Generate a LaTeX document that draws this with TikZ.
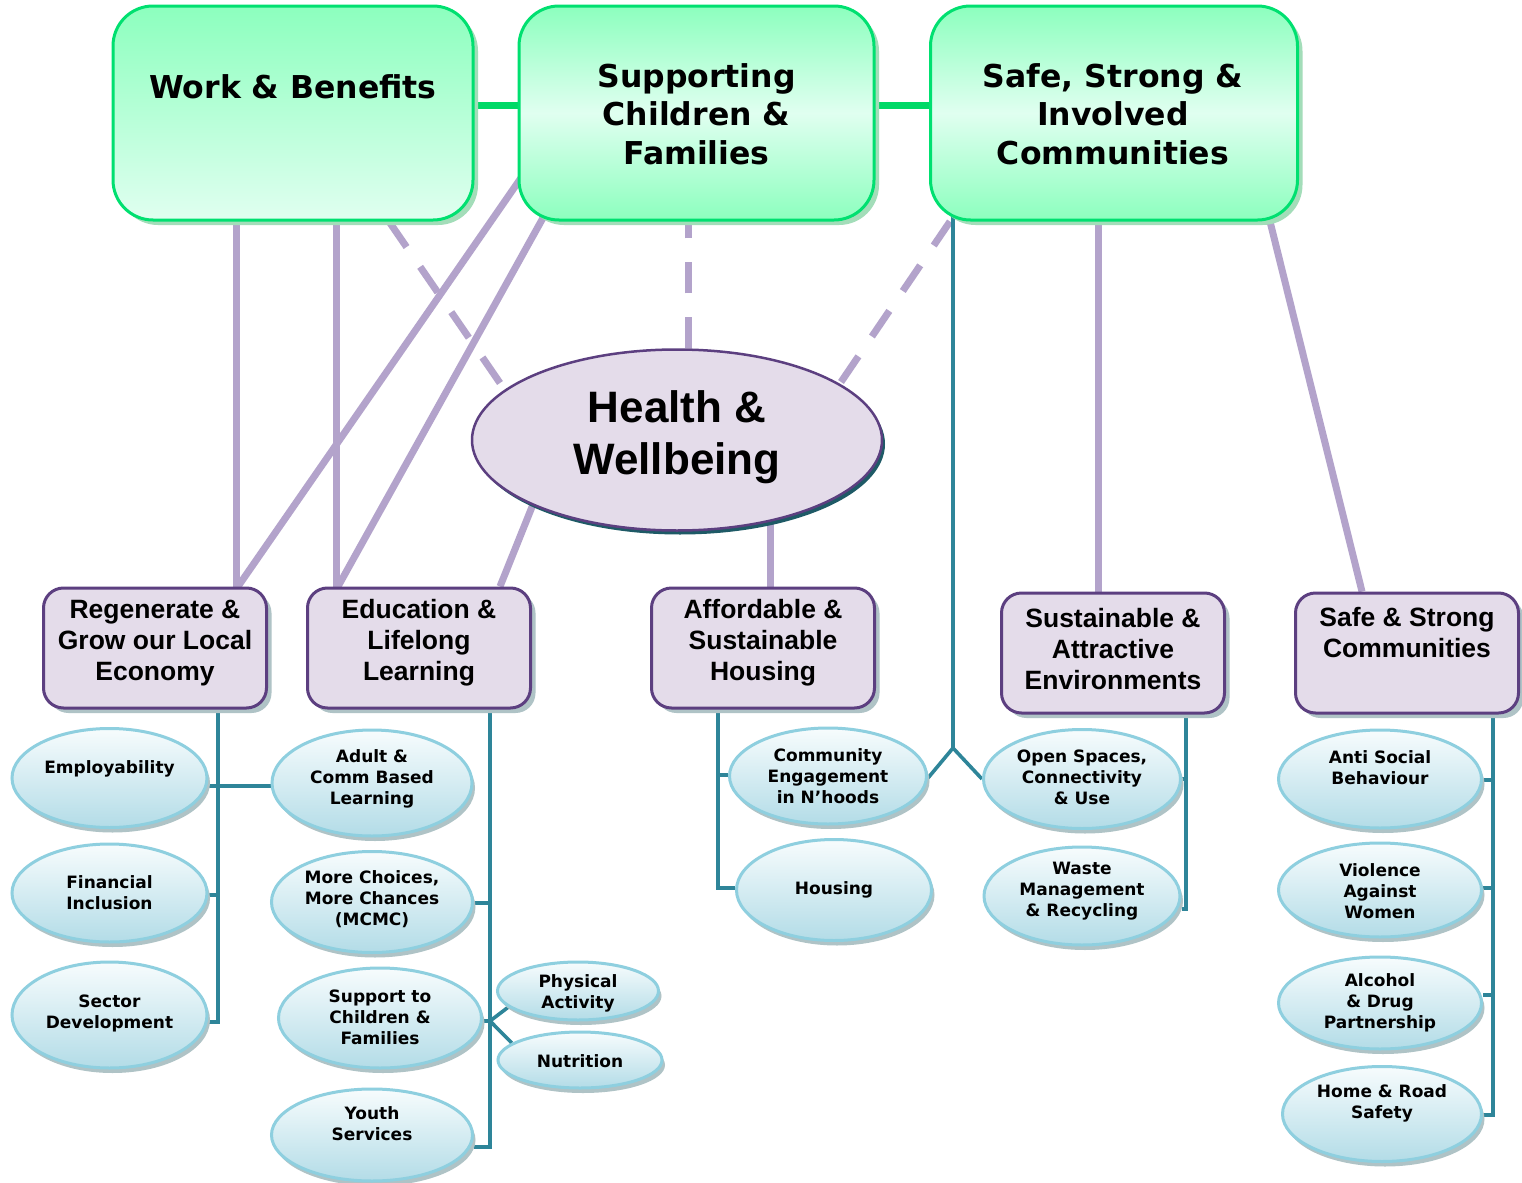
\documentclass[tikz,border=0pt]{standalone}
\usepackage{fontspec}
\newfontfamily\dvs{DejaVu Sans}
\newfontfamily\lib{Liberation Sans}
\usetikzlibrary{shapes.geometric,shadows,backgrounds,calc}
\definecolor{grnB}{HTML}{00E070}
\definecolor{grnL}{HTML}{00D966}
\definecolor{grnT}{HTML}{8CFFBE}
\definecolor{grnW}{HTML}{E0FFF0}
\definecolor{purL}{HTML}{B3A3CB}
\definecolor{purB}{HTML}{5C3F80}
\definecolor{purF}{HTML}{E4DCEA}
\definecolor{tealC}{HTML}{2E8599}
\definecolor{cyB}{HTML}{8ECFDF}
\definecolor{cyT}{HTML}{F7FCFD}
\definecolor{cyD}{HTML}{B3DCE7}
\definecolor{shd}{HTML}{AFC3C6}
\definecolor{shdG}{HTML}{A3DDB9}
\definecolor{hwS}{HTML}{1E5A66}
\newcommand\mysub[7]{%
  \node[subel, minimum width=#4*0.5pt, minimum height=#5*0.5pt] (#1) at (#2,#3) {};
  \node[subfont] (#1t) at (#2,#6) {#7};}
\begin{document}
\begin{tikzpicture}[x=0.5pt,y=-0.5pt,
  topbox/.style={rounded corners=20pt, draw=grnB, line width=1.5pt, inner sep=0pt,
    drop shadow={shadow xshift=2.5pt, shadow yshift=-2.5pt, fill=shdG, opacity=1}},
  topfont/.style={font=\dvs\bfseries\fontsize{15.75}{19.25}\selectfont, align=center},
  midbox/.style={rounded corners=10pt, draw=purB, line width=1.5pt, fill=purF,
    minimum width=111.5pt, minimum height=60pt,
    drop shadow={shadow xshift=2.5pt, shadow yshift=-2.5pt, fill=shd, opacity=1}},
  midfont/.style={font=\lib\bfseries\fontsize{13.25}{15.5}\selectfont, align=center},
  subel/.style={ellipse, draw=cyB, line width=1.5pt, top color=cyT, bottom color=cyD, inner sep=0pt,
    drop shadow={shadow xshift=1.5pt, shadow yshift=-2.5pt, fill=shd, opacity=1}},
  subfont/.style={font=\dvs\bfseries\fontsize{8.5}{10.5}\selectfont, align=center},
  pline/.style={draw=purL, line width=3.5pt},
  pdash/.style={draw=purL, line width=3.5pt, dash pattern=on 15.5pt off 12pt},
  gline/.style={draw=grnL, line width=3.5pt},
  tline/.style={draw=tealC, line width=1.8pt}]
\useasboundingbox (0,0) rectangle (1522,1183);

% top boxes
\node[topbox, minimum width=180pt, minimum height=107pt, top color=grnT, bottom color=grnW] (wb) at (293,113) {};
\node[topfont] (wbt) at (293,87) {Work \& Benefits};
\node[topbox, minimum width=177.5pt, minimum height=107pt, top color=grnT, bottom color=grnT, middle color=grnW] (scf) at (696.5,113) {};
\node[topfont] (scft) at (696.5,114) {Supporting\\Children \&\\Families};
\node[topbox, minimum width=183.5pt, minimum height=107pt, top color=grnT, bottom color=grnT, middle color=grnW] (ssi) at (1114,113) {};
\node[topfont] (ssit) at (1113,114) {Safe, Strong \&\\Involved\\Communities};

% health
\node[ellipse, draw=purB, line width=1.25pt, fill=purF, minimum width=205pt, minimum height=90.5pt,
  drop shadow={shadow xshift=1.5pt, shadow yshift=-2pt, fill=hwS, opacity=1}] (hw) at (677,440) {};
\node[font=\lib\bfseries\fontsize{22}{26}\selectfont, align=center] (hwt) at (677,437) {Health \&\\Wellbeing};

% middle boxes
\node[midbox] (reg) at (155,648) {};
\node[midfont] (regt) at (155,643) {Regenerate \&\\Grow our Local\\Economy};
\node[midbox] (edu) at (419,648) {};
\node[midfont] (edut) at (419,643) {Education \&\\Lifelong\\Learning};
\node[midbox] (aff) at (763,648) {};
\node[midfont] (afft) at (763,643) {Affordable \&\\Sustainable\\Housing};
\node[midbox] (sus) at (1113,653) {};
\node[midfont] (sust) at (1113,649) {Sustainable \&\\Attractive\\Environments};
\node[midbox] (sas) at (1407,653) {};
\node[midfont] (sast) at (1407,633) {Safe \& Strong\\Communities};

% sub ellipses
\mysub{emp}{109.5}{778}{195}{99}{769}{Employability}
\mysub{fin}{109.5}{893}{195}{98}{893}{Financial\\Inclusion}
\mysub{sec}{109.5}{1015}{195}{106}{1013}{Sector\\Development}
\mysub{adu}{372}{783}{200}{106}{779}{Adult \&\\Comm Based\\Learning}
\mysub{mcm}{372}{902}{201}{101}{899}{More Choices,\\More Chances\\(MCMC)}
\mysub{stc}{380}{1018}{203}{100}{1017}{Support to\\Children \&\\Families}
\mysub{you}{372}{1135}{201}{92}{1124}{Youth\\Services}
\mysub{phy}{578}{991}{161}{58}{993}{Physical\\Activity}
\mysub{nut}{580}{1060}{164}{56}{1061}{Nutrition}
\mysub{com}{828}{776}{197}{96}{776}{Community\\Engagement\\in N’hoods}
\mysub{hou}{834}{890}{195}{101}{890}{Housing}
\mysub{ope}{1082}{779}{197}{99}{777}{Open Spaces,\\Connectivity\\\& Use}
\mysub{was}{1082}{896}{196}{98}{891}{Waste\\Management\\\& Recycling}
\mysub{ant}{1380}{779}{203}{98}{768}{Anti Social\\Behaviour}
\mysub{vio}{1380}{890}{203}{94}{891}{Violence\\Against\\Women}
\mysub{alc}{1380}{1003}{203}{92}{1003}{Alcohol\\\& Drug\\Partnership}
\mysub{hom}{1382}{1114}{199}{95}{1103}{Home \& Road\\Safety}

% connectors
\begin{scope}[on background layer]
\fill[white] (0,0) rectangle (1522,1183);
\coordinate (hwL) at (500,383);
\coordinate (hwR) at (841,382);
\coordinate (hwE) at (540,487);
\coordinate (regtr) at (218,0);
\coordinate (edutr) at (490,0);
\coordinate (afftr) at (718,0);
\coordinate (sustr) at (1186,0);
\coordinate (sastr) at (1493,0);
\coordinate (jn) at (953,748);
\coordinate (eduj) at (490,1021);
% green links
\draw[gline] (wb.center |- 0,105) -- (scf.center |- 0,105);
\draw[gline] (scf.center |- 0,105) -- (ssi.center |- 0,105);
% purple links
\draw[pline] (wb.center -| 236,0) -- (reg.north -| 236,0);
\draw[pline] (wb.center -| 336,0) -- (edu.north -| 336,0);
\draw[pline] (reg.north -| 238,0) -- ($(reg.north -| 238,0)!1.15!(scf.west |- 0,183)$);
\draw[pline] (edu.north -| 338,0) -- ($(edu.north -| 338,0)!1.15!(scf.south -| 541,0)$);
\draw[pline] (edu.north -| 500,0) -- (hwE);
\draw[pline] (aff.north -| 770,0) -- (hw.center -| 770,0);
\draw[pline] (sus.north -| 1098,0) -- (ssi.center -| 1098,0);
\draw[pline] (sas.north -| 1362,0) -- ($(sas.north -| 1362,0)!1.15!(ssi.south -| 1270,0)$);
\draw[pdash] (hw.north -| 688,0) -- (scf.south -| 688,0);
\draw[pdash] (hwL) -- (wb.south -| 389,0);
\draw[pdash] (hwR) -- (ssi.south -| 950,0);
% teal trees
\draw[tline] (ssi.center -| 953,0) -- (jn) -- (com.east |- 0,778);
\draw[tline] (jn) -- (ope.west |- 0,779);
\draw[tline] (reg.south -| regtr) |- (sec.east |- 0,1022);
\draw[tline] (emp.east |- 0,786) -- (adu.west |- 0,786);
\draw[tline] (fin.east |- 0,895) -- (regtr |- 0,895);
\draw[tline] (edu.south -| edutr) |- (you.east |- 0,1147);
\draw[tline] (mcm.east |- 0,903) -- (edutr |- 0,903);
\draw[tline] (stc.east |- 0,1021) -- (eduj);
\draw[tline] (eduj) -- (phy.193);
\draw[tline] (eduj) -- (nut.166);
\draw[tline] (aff.south -| afftr) |- (hou.west |- 0,888);
\draw[tline] (afftr |- 0,775) -- (com.west |- 0,775);
\draw[tline] (sus.south -| sustr) |- (was.east |- 0,909);
\draw[tline] (sustr |- 0,779) -- (ope.east |- 0,779);
\draw[tline] (sas.south -| sastr) |- (hom.east |- 0,1115);
\draw[tline] (ant.east |- 0,780) -- (sastr |- 0,780);
\draw[tline] (vio.east |- 0,888) -- (sastr |- 0,888);
\draw[tline] (alc.east |- 0,995) -- (sastr |- 0,995);
\end{scope}
\end{tikzpicture}
\end{document}
